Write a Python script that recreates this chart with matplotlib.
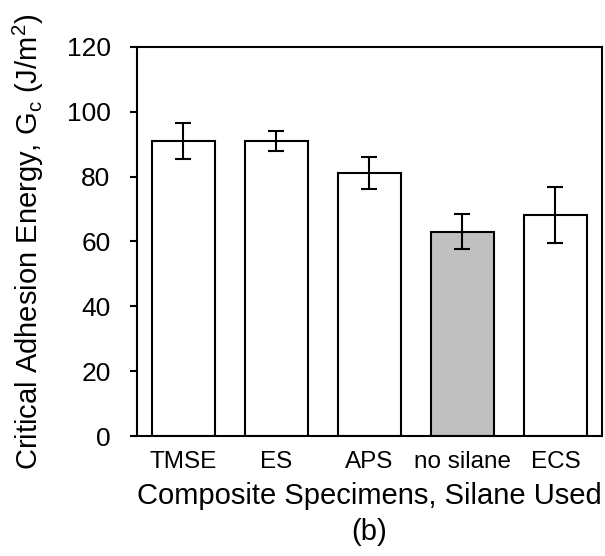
import numpy as np
import matplotlib.pyplot as plt

plt.rcParams['font.family'] = ['Liberation Sans', 'DejaVu Sans']
plt.rcParams['mathtext.fontset'] = 'custom'
plt.rcParams['mathtext.rm'] = 'Liberation Sans'

specimens = ['TMSE', 'ES', 'APS', 'no silane', 'ECS']
gc = [91.0, 91.0, 81.2, 63.0, 68.2]
gc_err = [5.5, 3.0, 4.9, 5.4, 8.6]
colors = ['white', 'white', 'white', '#c0c0c0', 'white']

fig = plt.figure(figsize=(6.05, 5.56), dpi=100)
ax = fig.add_axes([0.2264, 0.2158, 0.7686, 0.6997])

x = np.arange(len(specimens))
ax.bar(x, gc, width=0.67, color=colors, edgecolor='black', linewidth=1.5,
       yerr=gc_err, capsize=6, error_kw={'elinewidth': 1.5, 'capthick': 1.5})

ax.set_xlim(-0.5, 4.5)
ax.set_ylim(0, 120)
ax.set_yticks(range(0, 121, 20))
ax.set_xticks(x)
ax.set_xticklabels(specimens)
ax.tick_params(axis='x', length=0, labelsize=17.5, pad=11)
ax.tick_params(axis='y', direction='out', length=5, width=1.5, labelsize=19, pad=14)
for s in ax.spines.values():
    s.set_linewidth(1.5)

ax.set_ylabel(r'Critical Adhesion Energy, G$_\mathregular{c}$ (J/m$^\mathregular{2}$)',
              fontsize=21, labelpad=15)
ax.set_xlabel('Composite Specimens, Silane Used\n(b)', fontsize=21, labelpad=6,
              linespacing=1.4)

fig.savefig('out.png', dpi=100)
